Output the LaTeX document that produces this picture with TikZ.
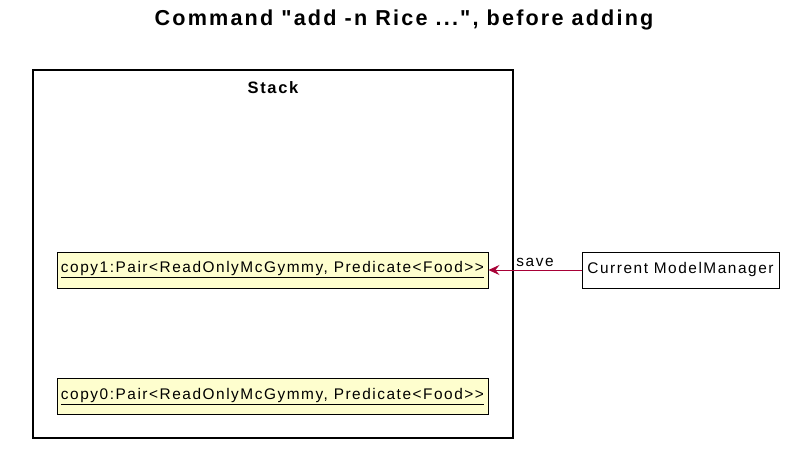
\documentclass[tikz,border=0pt]{standalone}
\usepackage{fontspec}
\setmainfont{Liberation Sans}[Ligatures=TeXOff]
\newfontfamily\umlfont{Liberation Sans}[Ligatures=TeXOff, LetterSpace=10]
\usetikzlibrary{arrows.meta}
\definecolor{umlfill}{HTML}{FEFECE}
\definecolor{umlarrow}{HTML}{A80036}
\tikzset{
	objbox/.style={draw, fill=umlfill, line width=0.9pt, minimum height=36pt, inner sep=0pt, font=\umlfont\fontsize{15.4}{17}\selectfont},
	plainbox/.style={draw, fill=white, line width=0.9pt, minimum height=36pt, inner sep=0pt, font=\umlfont\fontsize{15.4}{17}\selectfont}
}
\begin{document}
\begin{tikzpicture}[x=1pt, y=-1pt]
			% Frame
			\def\stackleftx{33}
			\def\stackrightx{513}
			\def\stacktopy{70}
			\def\stackboty{438}
			\useasboundingbox (0,0) rectangle (794,453);

			\node[font=\umlfont\bfseries\fontsize{21.6}{24}\selectfont] (title) at (404, 20) {Command "add -n Rice ...", before adding};
			\draw[line width=1.5pt] (\stackleftx, \stacktopy) rectangle (\stackrightx, \stackboty);
			\node[font=\umlfont\bfseries\fontsize{16.5}{18}\selectfont] (stack) at (273, 88) {Stack};

			% Objects
			\node[objbox, minimum width=431pt] (copyone) at (272.5, 270) {\underline{copy1:Pair<ReadOnlyMcGymmy, Predicate<Food>>}};
			\node[objbox, minimum width=431pt] (copyzero) at (272.5, 396.5) {\underline{copy0:Pair<ReadOnlyMcGymmy, Predicate<Food>>}};
			\node[plainbox, minimum width=197pt] (manager) at (680.5, 270) {Current ModelManager};

			\draw[umlarrow, line width=0.9pt, -{Stealth[length=11pt, width=10pt, inset=4pt]}] (manager) -- (copyone) node[pos=0.5, above, black, font=\umlfont\fontsize{15.4}{17}\selectfont] (save) {save};
		\end{tikzpicture}
\end{document}
